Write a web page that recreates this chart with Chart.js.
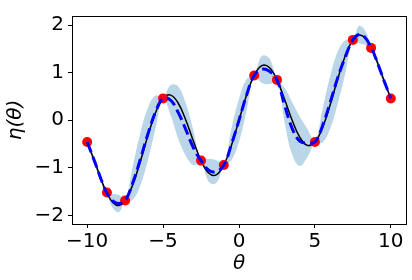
<!DOCTYPE html>
<html>
<head>
<meta charset="utf-8">
<script src="https://cdn.jsdelivr.net/npm/chart.js@4"></script>
<style>
  html, body { margin: 0; padding: 0; background: #fff; }
  #wrap { width: 412px; height: 280px; }
</style>
</head>
<body>
<div id="wrap"><canvas id="c"></canvas></div>
<script>
// θ grid
const theta = [-10, -9.5, -9, -8.7, -8.3, -7.9, -7.5, -7, -6.5, -6, -5.5, -5, -4.5, -4, -3.5, -3, -2.5, -2, -1.5, -1, -0.5,
  0, 0.5, 1, 1.5, 2, 2.5, 3, 3.5, 4, 4.5, 5, 5.5, 6, 6.5, 7, 7.5, 7.9, 8.3, 8.7, 9, 9.5, 10];

// black solid curve
const trueEta = [-0.456, -0.875, -1.312, -1.533, -1.732, -1.789, -1.688, -1.357, -0.865, -0.321, 0.156, 0.459, 0.528, 0.357, 0.001, -0.441, -0.848, -1.109, -1.147, -0.941, -0.529,
  0, 0.529, 0.941, 1.147, 1.109, 0.848, 0.441, -0.001, -0.357, -0.528, -0.459, -0.156, 0.321, 0.865, 1.357, 1.688, 1.789, 1.732, 1.533, 1.312, 0.875, 0.456];

// blue dashed mean
const meanEta = [-0.456, -0.875, -1.31, -1.533, -1.70, -1.75, -1.688, -1.32, -0.82, -0.29, 0.17, 0.459, 0.42, 0.16, -0.2, -0.58, -0.848, -1.05, -1.08, -0.941, -0.51,
  0, 0.53, 0.941, 1.07, 1.03, 0.848, 0.32, -0.17, -0.44, -0.48, -0.459, -0.12, 0.37, 0.89, 1.33, 1.688, 1.80, 1.74, 1.533, 1.31, 0.875, 0.456];

// shaded band edges
const bandUpper = [-0.436, -0.795, -1.25, -1.513, -1.55, -1.57, -1.668, -0.97, -0.27, 0.26, 0.52, 0.479, 0.74, 0.71, 0.35, -0.22, -0.828, -0.81, -0.84, -0.921, -0.18,
  0.45, 0.86, 0.961, 1.35, 1.30, 0.868, 0.68, 0.38, 0.08, -0.18, -0.439, 0.23, 0.92, 1.44, 1.68, 1.708, 1.98, 1.89, 1.553, 1.37, 0.955, 0.476];
const bandLower = [-0.476, -0.955, -1.37, -1.553, -1.85, -1.93, -1.708, -1.67, -1.37, -0.84, -0.18, 0.439, 0.10, -0.39, -0.75, -0.94, -0.868, -1.29, -1.32, -0.961, -0.84,
  -0.45, 0.20, 0.921, 0.79, 0.76, 0.828, -0.04, -0.72, -0.96, -0.78, -0.479, -0.47, -0.18, 0.34, 0.98, 1.668, 1.62, 1.59, 1.513, 1.25, 0.795, 0.436];

// red observations
const obsTheta = [-10, -8.7, -7.5, -5, -2.5, -1, 1, 2.5, 5, 7.5, 8.7, 10];
const obsEta = [-0.456, -1.52, -1.688, 0.459, -0.848, -0.941, 0.941, 0.848, -0.459, 1.688, 1.52, 0.456];

const xTicks = [-10, -5, 0, 5, 10];
const yTicks = [-2, -1, 0, 1, 2];

const pts = (xs, ys) => xs.map((x, i) => ({ x, y: ys[i] }));
const minus = v => (v < 0 ? "\u2212" + Math.abs(v) : String(v));
const FONT = "DejaVu Sans";

const frame = {
  id: "frame",
  afterDatasetsDraw(chart) {
    const { ctx, chartArea: a } = chart;
    ctx.save();
    ctx.strokeStyle = "#000";
    ctx.lineWidth = 1;
    ctx.strokeRect(Math.round(a.left) + 0.5, Math.round(a.top) + 0.5, Math.round(a.right - a.left), Math.round(a.bottom - a.top));
    ctx.restore();
  }
};

new Chart(document.getElementById("c"), {
  type: "line",
  data: {
    datasets: [
      { label: "mean", data: pts(theta, meanEta), borderColor: "#0000ff", borderWidth: 3, borderDash: [11, 5], pointRadius: 0, tension: 0.4, fill: false, order: 0 },
      { label: "obs", type: "scatter", data: pts(obsTheta, obsEta), backgroundColor: "#ff0000", borderWidth: 0, pointRadius: 5, order: 1 },
      { label: "true", data: pts(theta, trueEta), borderColor: "#000", borderWidth: 1.5, pointRadius: 0, tension: 0.4, fill: false, order: 2 },
      { label: "upper", data: pts(theta, bandUpper), borderWidth: 0, borderColor: "rgba(0,0,0,0)", pointRadius: 0, tension: 0.4,
        fill: { target: 4 }, backgroundColor: "rgba(31,119,180,0.3)", order: 3 },
      { label: "lower", data: pts(theta, bandLower), borderWidth: 0, borderColor: "rgba(0,0,0,0)", pointRadius: 0, tension: 0.4, fill: false, order: 4 },
    ],
  },
  options: {
    responsive: true,
    maintainAspectRatio: false,
    animation: false,
    events: [],
    layout: { padding: { top: 6, right: 6, left: 0, bottom: 0 } },
    plugins: { legend: { display: false }, tooltip: { enabled: false } },
    scales: {
      x: {
        type: "linear", min: -11, max: 11,
        afterBuildTicks: s => { s.ticks = xTicks.map(v => ({ value: v })); },
        afterFit: s => { s.height = 56; },
        grid: { display: true, drawOnChartArea: false, drawTicks: true, tickLength: 4, color: "#000" },
        border: { display: true, color: "#000" },
        ticks: { color: "#000", font: { family: FONT, size: 20 }, padding: 2, maxRotation: 0, callback: minus },
        title: { display: true, text: "θ", color: "#000", font: { family: FONT, size: 20, style: "italic" }, padding: { top: 0, bottom: 4 } },
      },
      y: {
        type: "linear", min: -2.18, max: 2.19,
        afterBuildTicks: s => { s.ticks = yTicks.map(v => ({ value: v })); },
        afterFit: s => { s.width = 72; },
        grid: { display: true, drawOnChartArea: false, drawTicks: true, tickLength: 4, color: "#000" },
        border: { display: true, color: "#000" },
        ticks: { color: "#000", font: { family: FONT, size: 20 }, padding: 4, callback: minus },
        title: { display: true, text: "η(θ)", color: "#000", font: { family: FONT, size: 20, style: "italic" }, padding: { top: 4, bottom: 0 } },
      },
    },
  },
  plugins: [frame],
});
</script>
</body>
</html>
